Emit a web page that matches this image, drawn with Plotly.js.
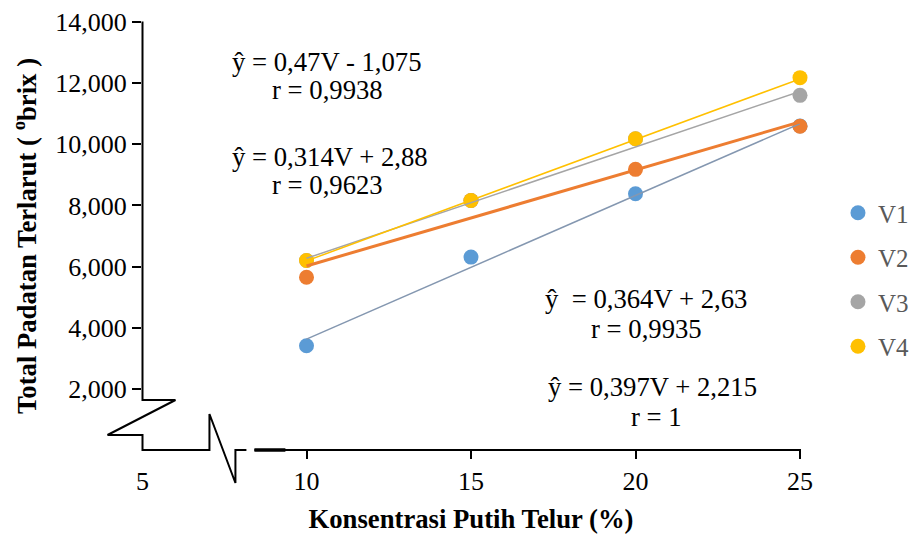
<!DOCTYPE html>
<html>
<head>
<meta charset="utf-8">
<script src="https://cdn.plot.ly/plotly-3.0.1.min.js"></script>
<style>html,body{margin:0;padding:0;background:#fff;}#chart{width:911px;height:536px;}</style>
</head>
<body>
<div id="chart"></div>
<script>
// ---- data ----
const konsentrasi = [10, 15, 20, 25];
const seriesNames = ["V1", "V2", "V3", "V4"];
const v1 = [3.41, 6.31, 8.38, 10.60];
const v2 = [5.65, 8.16, 9.18, 10.59];
const v3 = [6.20, 8.16, 10.18, 11.60];
const v4 = [6.20, 8.16, 10.18, 12.18];
const trendSlope = [0.47, 0.314, 0.364, 0.397];
const trendIntercept = [-1.075, 2.88, 2.63, 2.215];
const trendRange = [10, 25];
const yTickVals = [2, 4, 6, 8, 10, 12, 14];
const xTickVals = [10, 15, 20, 25];
const eqTexts = ["ŷ = 0,47V - 1,075", "r = 0,9938", "ŷ = 0,314V + 2,88", "r = 0,9623",
                 "ŷ\u00a0 = 0,364V + 2,63", "r = 0,9935", "ŷ = 0,397V + 2,215", "r = 1"];

// ---- styles ----
const colors = ["#5B9BD5", "#ED7D31", "#A5A5A5", "#FFC000"];
const trendColors = ["#8497B0", "#ED7D31", "#A5A5A5", "#FFC000"];
const trendWidths = [1.5, 3, 1.5, 1.5];
const serif = "Liberation Serif, Times New Roman, serif";

const W = 911, H = 536;
const L = 141.5, R = 800, T = 22, B = 450;
const pw = R - L, ph = B - T;
const px = x => (x - L) / pw;
const py = y => (B - y) / ph;

const allSeries = [v1, v2, v3, v4];
const traces = [];
allSeries.forEach((vals, i) => {
  traces.push({
    type: "scatter", mode: "markers", name: seriesNames[i],
    x: konsentrasi, y: vals,
    marker: {color: colors[i], size: 15},
    cliponaxis: false,
    legendgroup: "g" + i
  });
});
allSeries.forEach((vals, i) => {
  traces.push({
    type: "scatter", mode: "lines", showlegend: false, hoverinfo: "skip",
    x: trendRange, y: trendRange.map(x => trendSlope[i] * x + trendIntercept[i]),
    line: {color: trendColors[i], width: trendWidths[i]},
    cliponaxis: false
  });
});

function path(pts) {
  return pts.map((p, k) => (k ? "L" : "M") + px(p[0]).toFixed(5) + "," + py(p[1]).toFixed(5)).join(" ");
}

const shapes = [
  {type: "path", xref: "paper", yref: "paper",
   path: path([[142, 21.5], [142, 400], [175, 400], [107, 435], [142, 435], [142, 450], [209, 450],
               [209, 414], [235, 483], [235, 450], [246, 450]]),
   line: {color: "#000", width: 2}},
  {type: "line", xref: "paper", yref: "paper", x0: px(254), x1: px(801), y0: py(450), y1: py(450),
   line: {color: "#000", width: 2}},
  {type: "line", xref: "paper", yref: "paper", x0: px(254), x1: px(285), y0: py(450), y1: py(450),
   line: {color: "#000", width: 3.5}}
];

const eqPos = [[327, 62], [327, 90], [330, 157], [327, 185], [646, 299], [646, 329], [652, 387], [656, 417]];
const annotations = eqTexts.map((t, i) => ({
  text: t, xref: "paper", yref: "paper", x: px(eqPos[i][0]), y: py(eqPos[i][1]),
  xanchor: "center", yanchor: "middle", showarrow: false,
  font: {family: serif, size: 26.7, color: "#000"}
}));
annotations.push({
  text: "5", xref: "x", x: 5, yref: "paper", y: py(481), xanchor: "center", yanchor: "middle",
  showarrow: false, font: {family: serif, size: 26, color: "#000"}
});

const layout = {
  width: W, height: H,
  margin: {l: L, r: W - R, t: T, b: H - B, pad: 0, autoexpand: false},
  paper_bgcolor: "#fff", plot_bgcolor: "#fff",
  separators: ",.",
  showlegend: true,
  legend: {
    x: px(838), y: py(190), xanchor: "left", yanchor: "top",
    font: {family: serif, size: 25, color: "#595959"},
    traceorder: "grouped", tracegroupgap: 9, bgcolor: "rgba(0,0,0,0)"
  },
  xaxis: {
    range: [5, 25], tickvals: xTickVals, tickformat: "d",
    ticks: "outside", ticklen: 8, tickwidth: 2, tickcolor: "#000",
    showline: false, showgrid: false, zeroline: false,
    tickfont: {family: serif, size: 26, color: "#000"},
    title: {text: "<b>Konsentrasi Putih Telur (%)</b>", standoff: 14,
            font: {family: serif, size: 26.7, color: "#000"}}
  },
  yaxis: {
    range: [0, 14], tickvals: yTickVals, tickformat: ".3f",
    ticks: "outside", ticklen: 9, tickwidth: 2, tickcolor: "#000",
    showline: false, showgrid: false, zeroline: false,
    tickfont: {family: serif, size: 26, color: "#000"},
    title: {text: "<b>Total Padatan Terlarut ( <sup>o</sup>brix )</b>", standoff: 10,
            font: {family: serif, size: 26.7, color: "#000"}}
  },
  shapes: shapes,
  annotations: annotations
};

Plotly.newPlot("chart", traces, layout, {staticPlot: true, displayModeBar: false});
</script>
</body>
</html>
